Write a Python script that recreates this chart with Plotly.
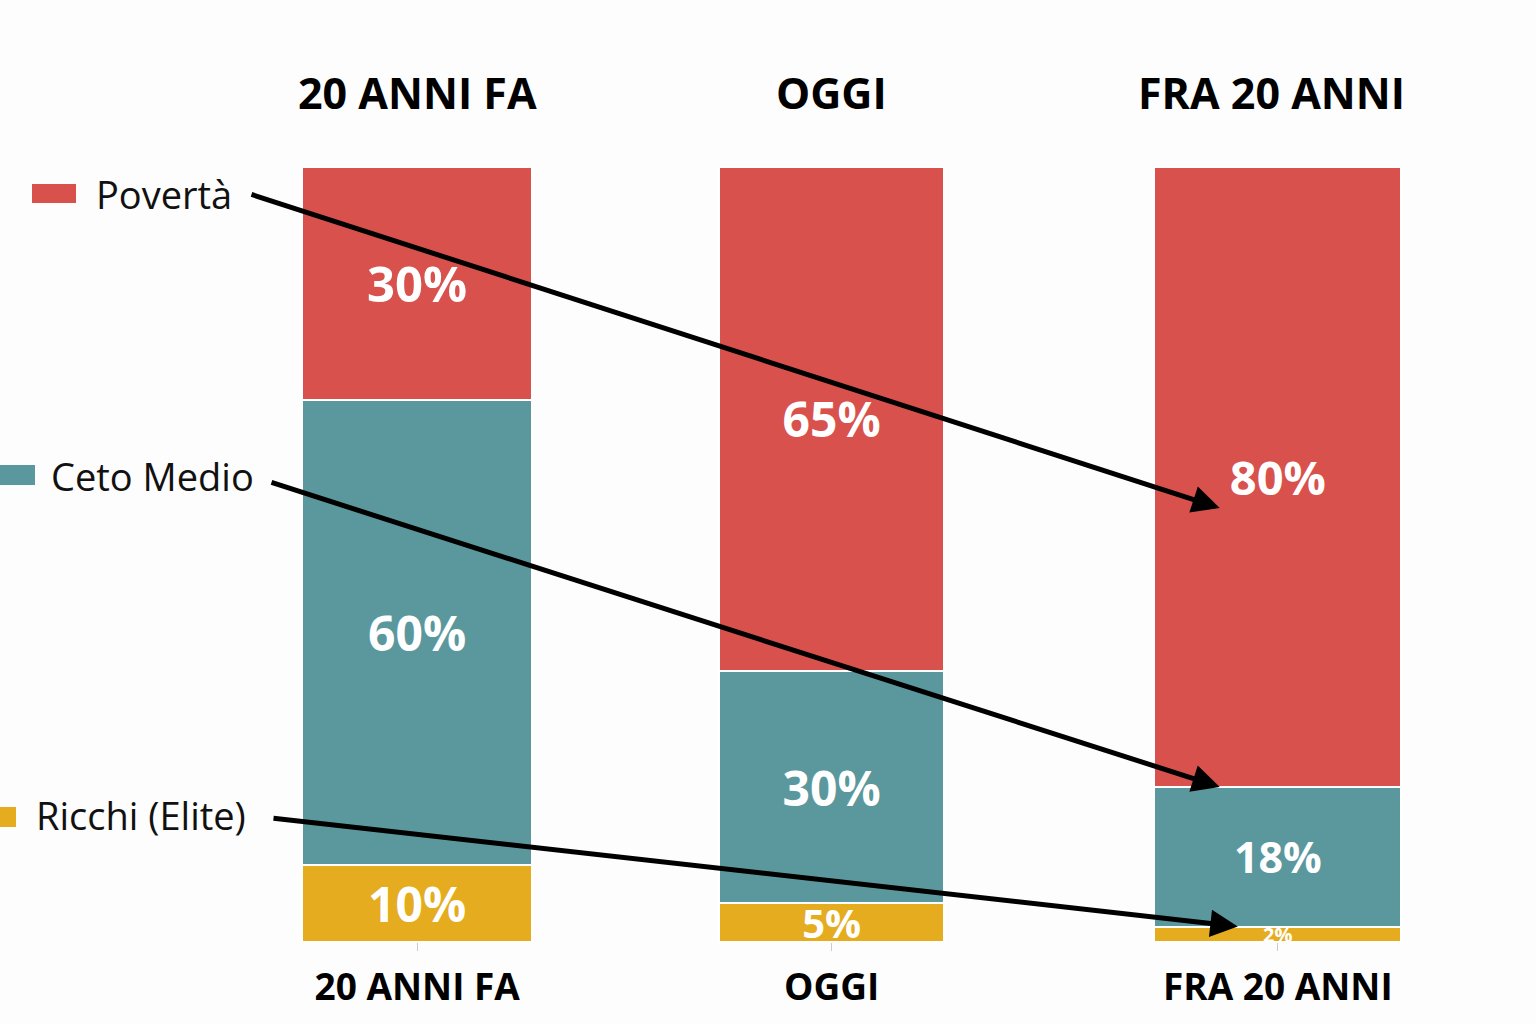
import plotly.graph_objects as go

# ---- data ----
periods = ["20 ANNI FA", "OGGI", "FRA 20 ANNI"]
ricchi = [10, 5, 2]
ceto_medio = [60, 30, 18]
poverta = [30, 65, 80]
series_names = ["Povertà", "Ceto Medio", "Ricchi (Elite)"]

# ---- layout / style constants ----
X_POS = [0.0, 0.963, 2.0]          # bar centres on the x axis
BAR_W = [0.535, 0.523, 0.574]      # bar widths
RED = "#D8514C"
TEAL = "#5B989E"
YELLOW = "#E4AC1E"
BG = "#FDFDFD"
W, H = 1536, 1024
L, R, T, B = 202, 1493, 167, 942
BOLD = "Open Sans"
REG = "Open Sans"
XR = [-0.5, 2.5]


def xpx(xv):
    return L + (xv - XR[0]) / (XR[1] - XR[0]) * (R - L)


def ypx(v):
    return B - v / 100 * (B - T)


def px_paper_x(px):
    return (px - L) / (R - L)


def px_paper_y(py):
    return (B - py) / (B - T)


fig = go.Figure()
for vals, name, col, sizes in [
    (ricchi, series_names[2], YELLOW, [48, 40, 20]),
    (ceto_medio, series_names[1], TEAL, [48, 48, 43]),
    (poverta, series_names[0], RED, [49, 48, 47]),
]:
    fig.add_trace(go.Bar(
        x=X_POS, y=vals, name=name, width=BAR_W,
        marker=dict(color=col, line=dict(color="white", width=2)),
        text=[f"{v}%" for v in vals],
        textposition="inside", insidetextanchor="middle",
        constraintext="none",
        textfont=dict(family=BOLD, size=sizes, color="white", weight="bold"),
        showlegend=False, hoverinfo="skip",
    ))

# top titles
title_dx = [0, 0, -0.015]
for xp, p, d in zip(X_POS, periods, title_dx):
    fig.add_annotation(x=xp + d, xref="x", y=px_paper_y(92), yref="paper",
                       text=f"<b>{p}</b>", showarrow=False,
                       font=dict(family=BOLD, size=43, color="black"),
                       yanchor="middle")

# manual legend
legend_items = [
    (series_names[0], RED, (32, 184, 76, 203), (94, 194)),
    (series_names[1], TEAL, (0, 465, 35, 485), (49, 476)),
    (series_names[2], YELLOW, (0, 807, 16, 827), (34, 815)),
]
for name, col, (x0, y0, x1, y1), (tx, ty) in legend_items:
    fig.add_shape(type="rect", xref="paper", yref="paper",
                  x0=px_paper_x(x0), x1=px_paper_x(x1),
                  y0=px_paper_y(y1), y1=px_paper_y(y0),
                  fillcolor=col, line=dict(width=0))
    fig.add_annotation(x=px_paper_x(tx), y=px_paper_y(ty), xref="paper", yref="paper",
                       text=name, showarrow=False, xanchor="left", yanchor="middle",
                       font=dict(family=REG, size=38, color="#111111"))

# arrows: tail at legend, head at the last bar's segment
last = len(periods) - 1
heads = [
    (-0.135, ceto_medio[last] + ricchi[last] + poverta[last] / 2 - 4, (250, 194)),
    (-0.135, ricchi[last] + ceto_medio[last], (270, 482)),
    (-0.093, ricchi[last], (272, 818)),
]
for off, yv, (tx, ty) in heads:
    hxv = X_POS[last] + off
    hx, hy = xpx(hxv), ypx(yv)
    fig.add_annotation(x=hxv, y=yv, xref="x", yref="y",
                       ax=tx - hx, ay=ty - hy, axref="pixel", ayref="pixel",
                       showarrow=True, arrowhead=2, arrowsize=1.1, arrowwidth=5,
                       arrowcolor="black", text="")

fig.update_layout(
    width=W, height=H, barmode="stack",
    paper_bgcolor=BG, plot_bgcolor=BG,
    margin=dict(l=L, r=W - R, t=T, b=H - B, pad=0, autoexpand=False),
)
fig.update_xaxes(range=XR, tickvals=X_POS, ticktext=periods, automargin=False,
                 showgrid=False, zeroline=False, showline=False,
                 ticks="outside", ticklen=8, tickcolor="#cccccc", tickwidth=1,
                 tickfont=dict(family=BOLD, size=37, color="black", weight="bold"),
                 ticklabelstandoff=5)
fig.update_yaxes(range=[0, 100], showgrid=False, zeroline=False, showline=False,
                 showticklabels=False, ticks="", automargin=False)

fig.write_html("out.html", config={"displayModeBar": False})
with open("out.html", "r", encoding="utf-8") as f:
    html = f.read()
html = html.replace("<head>", "<head><style>html,body{margin:0;padding:0;overflow:hidden;background:#FDFDFD}</style>", 1)
with open("out.html", "w", encoding="utf-8") as f:
    f.write(html)
